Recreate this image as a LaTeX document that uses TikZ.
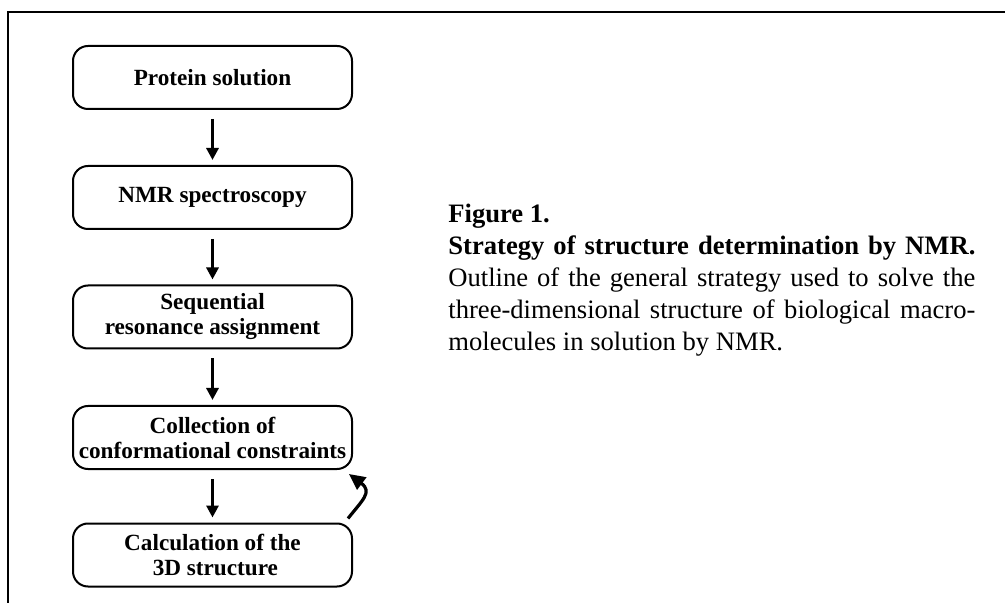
\documentclass[tikz,border=0pt]{standalone}
\usepackage{fontspec}
\setmainfont{Liberation Serif}
\usetikzlibrary{arrows.meta}

\tikzset{
  stepbox/.style={draw, line width=1pt, rounded corners=7.5pt,
    minimum width=139.5pt, minimum height=31.5pt, inner sep=0pt,
    align=center, font=\fontsize{11.6pt}{12.5pt}\bfseries\selectfont},
  flow/.style={line width=1.5pt, -{Triangle[width=6pt,length=6pt]},
    shorten <=4.5pt, shorten >=2.5pt}
}

\begin{document}
\begin{tikzpicture}[x=0.5pt,y=-0.5pt]
        \useasboundingbox (0,0) rectangle (1005,603);

        % frame
        \draw[line width=1pt] (8,603) -- (8,12) -- (1005,12);

        \begin{scope}[every node/.style={stepbox}]
          \node (protein)  at (212.5,77.5)  {Protein solution};
          \node (nmr)      at (212.5,197.5) {NMR spectroscopy};
          \node (assign)   at (212.5,317)   {Sequential\\resonance assignment};
          \node (collect)  at (212.5,437.5) {Collection of\\conformational constraints};
          \node (calc)     at (212.5,555)   {Calculation of the\\\ 3D structure};
        \end{scope}

        \begin{scope}[every edge/.style={draw,flow}]
          \path (protein) edge (nmr);
          \path (nmr)     edge (assign);
          \path (assign)  edge (collect);
          \path (collect) edge (calc);
        \end{scope}

        % iteration
        \draw[line width=1.6pt, -{Triangle[width=7.5pt,length=8pt]}]
          ([xshift=-2.5pt,yshift=2pt]calc.north east)
          .. controls +(14,-18) and +(24,18) ..
          ([xshift=-2pt,yshift=-2pt]collect.south east);

        \node[anchor=north west, text width=263.5pt, align=justify, inner sep=0pt,
              font=\fontsize{13.3pt}{16pt}\selectfont] (caption) at (448,204)
          {\textbf{Figure 1.}\\
           \textbf{Strategy of structure determination by NMR.}\linebreak
           Outline of the general strategy used to solve the\linebreak
           three-dimensional structure of biological macro-\linebreak
           molecules in solution by NMR.};

\end{tikzpicture}
\end{document}
